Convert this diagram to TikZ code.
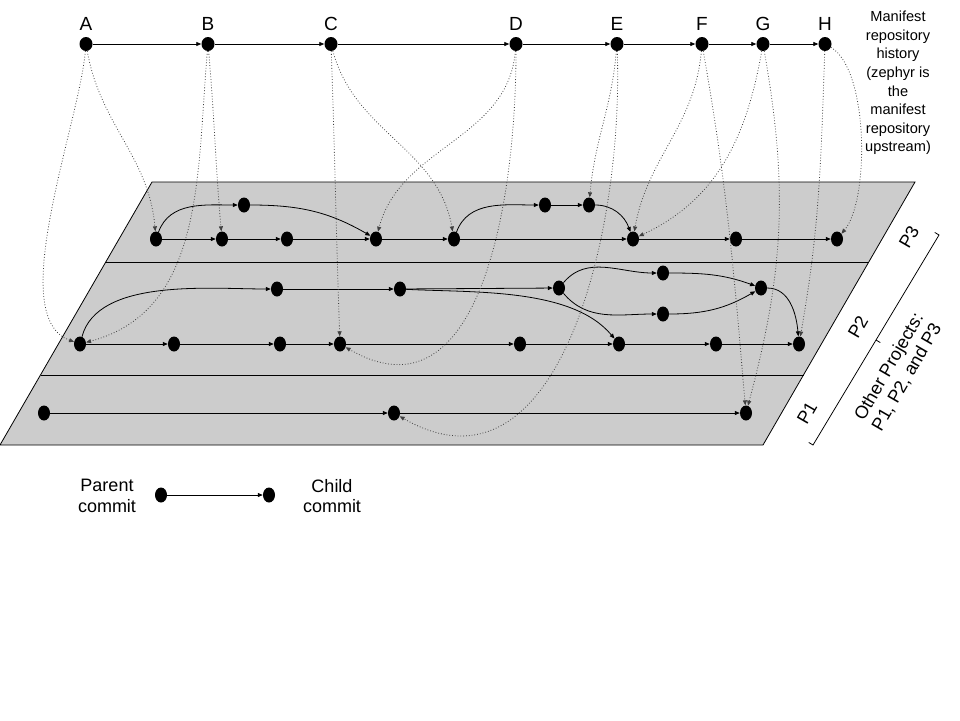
\documentclass[tikz,border=0pt]{standalone}
\usepackage{fontspec}
\setmainfont{Liberation Sans}
\usetikzlibrary{positioning, shapes.geometric, arrows.meta}

\begin{document}
\begin{tikzpicture}[x=1pt, y=1pt,
    commit/.style={ellipse, fill=black, inner sep=0pt, minimum width=12pt, minimum height=15pt},
    parent/.style={-{Triangle[length=5pt,width=4pt]}, line width=0.8pt},
    link/.style={-{Triangle[length=5pt,width=4pt]}, dotted, line width=0.8pt, black!75},
    big/.style={font=\fontsize{18}{20.5}\selectfont}]
  \useasboundingbox (0,0) rectangle (960,-720);

  % Projects plane
  \draw[fill=black!20, line width=0.8pt] (152,-182) -- (915,-182) -- (763,-445) -- (0,-445) -- cycle;
  \draw[line width=0.8pt] (105.8,-262) -- (868.8,-262);
  \draw[line width=0.8pt] (40.5,-375) -- (803.5,-375);

  \node[big, rotate=60] (lblP3) at (909,-237) {P3};
  \node[big, rotate=60] (lblP2) at (858,-327) {P2};
  \node[big, rotate=60] (lblP1) at (807,-413) {P1};

  % Bracket
  \draw[line width=0.8pt] (808.7,-442.4) -- (813,-445) -- (939,-235) -- (934.7,-232.4);
  \draw[line width=0.8pt] (876,-340) -- (880.3,-342.6);
  \node[big, rotate=60, align=center] (lblOther) at (898,-372) {Other Projects:\\P1, P2, and P3};

  % Manifest history
  \foreach \n/\x in {A/86, B/208, C/331, D/516, E/617, F/702, G/763, H/825}
    \node[commit, minimum width=13pt, minimum height=14pt,
      label={[font=\fontsize{19}{22}\selectfont, label distance=3pt]above:\n}] (m\n) at (\x,-44) {};
  \foreach \a/\b in {A/B, B/C, C/D, D/E, E/F, F/G, G/H}
    \draw[parent] (m\a) -- (m\b);
  \node[align=center, inner sep=0pt, font=\fontsize{14.6}{18.6}\selectfont] (lblManifest) at (898,-83)
    {Manifest\\repository\\history\\(zephyr is\\the\\manifest\\repository\\upstream)};

  % P3
  \foreach \n/\x in {a/156, b/222, c/287, d/376, e/454, f/633, g/736, h/837}
    \node[commit] (p3\n) at (\x,-239) {};
  \foreach \n/\x/\y in {u1/244/205, u2/545/205, u3/589/205}
    \node[commit] (p3\n) at (\x,-\y) {};

  % P2
  \foreach \n/\x in {a/80, b/174, c/280, d/340, e/520, f/619, g/716, h/799}
    \node[commit] (p2\n) at (\x,-344) {};
  \foreach \n/\x/\y in {u1/277/289, u2/400/289, u3/559/288, v1/663/273, v2/663/314, u4/761/288}
    \node[commit] (p2\n) at (\x,-\y) {};

  % P1
  \foreach \n/\x in {a/44, b/394, c/746}
    \node[commit] (p1\n) at (\x,-413) {};

  \foreach \a/\b in {a/b, b/c, c/d, d/e, e/f, f/g, g/h} {
    \draw[parent] (p3\a) -- (p3\b);
    \draw[parent] (p2\a) -- (p2\b);
  }
  \draw[parent] (p1a) -- (p1b);
  \draw[parent] (p1b) -- (p1c);

  \draw[parent] (p3a) to[out=70, in=180] (p3u1);
  \draw[parent] (p3u1) to[out=0, in=150] (p3d);
  \draw[parent] (p3e) to[out=70, in=180] (p3u2);
  \draw[parent] (p3u2) -- (p3u3);
  \draw[parent] (p3u3) to[out=0, in=110] (p3f);

  \draw[parent] (p2a) to[out=75, in=180, looseness=0.8] (p2u1);
  \draw[parent] (p2u1) -- (p2u2);
  \draw[parent] (p2u2) -- (p2u3);
  \draw[parent] (p2u2) to[out=-3, in=130, looseness=0.8] (p2f);
  \draw[parent] (p2u3) to[out=50, in=180] (p2v1);
  \draw[parent] (p2u3) to[out=-50, in=180] (p2v2);
  \draw[parent] (p2v1) to[out=0, in=160] (p2u4);
  \draw[parent] (p2v2) to[out=0, in=-150] (p2u4);
  \draw[parent] (p2u4) to[out=0, in=95] (p2h);

  % manifest -> projects
  \draw[link] (mA) to[out=-80, in=95] (p3a);
  \draw[link] (mA) to[out=-95, in=160, looseness=0.65] (p2a);
  \draw[link] (mB) to[out=-85, in=95] (p3b);
  \draw[link] (mB) to[out=-95, in=15] (p2a);
  \draw[link] (mC) to[out=-88, in=92] (p2d);
  \draw[link] (mC) to[out=-75, in=100] (p3e);
  \draw[link] (mD) to[out=-95, in=75] (p3d);
  \draw[link] (mD) to[out=-90, in=-30, looseness=1.15] (p2d);
  \draw[link] (mE) to[out=-95, in=85] (p3u3);
  \draw[link] (mE) to[out=-88, in=-30, looseness=1.1] (p1b);
  \draw[link] (mF) to[out=-95, in=80] (p3f);
  \draw[link] (mF) to[out=-80, in=95] (p1c);
  \draw[link] (mG) to[out=-100, in=25] (p3f);
  \draw[link] (mG) to[out=-80, in=75] (p1c);
  \draw[link] (mH) to[out=-92, in=80] (p2h);
  \draw[link] (mH) to[out=-30, in=50, looseness=0.6] (p3h);

  % Legend
  \node[commit] (lgParent) at (161,-495) {};
  \node[commit] (lgChild) at (269,-495) {};
  \draw[parent] (lgParent) -- (lgChild);
  \node[big, align=center] (lblParent) at (107,-496) {Parent\\commit};
  \node[big, align=center] (lblChild) at (332,-496) {Child\\commit};
\end{tikzpicture}
\end{document}
